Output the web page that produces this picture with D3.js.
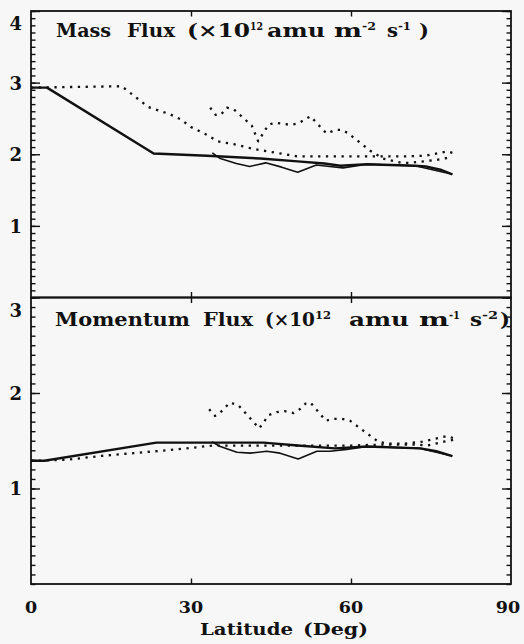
<!DOCTYPE html>
<html><head><meta charset="utf-8">
<script src="https://cdn.jsdelivr.net/npm/d3@7/dist/d3.min.js"></script>
<style>
body{margin:0;background:#f7f7f7}
svg{display:block}
text{font-family:"DejaVu Serif",serif;font-weight:bold;fill:#111}
</style>
</head><body>
<svg id="c" width="524" height="644"></svg>
<script>
// ---- tick labels ----
const latTicks = [0, 30, 60, 90];
const massTicks = [1, 2, 3, 4];
const momTicks = [1, 2, 3];

// ---- title pieces (text, superscript flag) ----
const massTitle = [["Mass", 0], ["Flux", 0], ["(×10", 0], ["12", 1], ["amu", 0], ["m", 0], ["-2", 1], ["s", 0], ["-1", 1], [")", 0]];
const momTitle = [["Momentum", 0], ["Flux", 0], ["(×10", 0], ["12", 1], ["amu", 0], ["m", 0], ["-1", 1], ["s", 0], ["-2", 1], [")", 0]];
const xTitle = [["Latitude", 0], ["(Deg)", 0]];

// ---- Mass flux panel ----
const massSolidLat = [0, 3, 23, 33, 43, 50, 55, 58, 63, 72, 74, 77, 79];
const massSolidVal = [2.93, 2.93, 2.01, 1.98, 1.94, 1.90, 1.87, 1.84, 1.86, 1.84, 1.83, 1.78, 1.72];
const massThinLat = [34, 35.5, 38.5, 41, 44, 47, 50, 53.5, 56, 58.5, 63, 72, 79];
const massThinVal = [2.02, 1.94, 1.87, 1.83, 1.88, 1.82, 1.75, 1.85, 1.83, 1.81, 1.86, 1.84, 1.72];
const massDotLat = [0, 17, 22, 26, 28, 30, 33, 35, 38, 42, 46, 50, 60, 70, 74, 78, 80];
const massDotVal = [2.93, 2.95, 2.66, 2.56, 2.49, 2.38, 2.27, 2.18, 2.14, 2.07, 2.02, 1.97, 1.97, 1.97, 1.98, 2.04, 2.0];
const massDot2Lat = [33.6, 34.6, 35.6, 36.7, 38, 41.4, 42.6, 44.5, 45.7, 48.7, 50.1, 52.4, 55.4, 57.1, 58.4, 59.5, 63.6, 66, 69.4, 71, 76, 78.9];
const massDot2Val = [2.65, 2.55, 2.55, 2.65, 2.63, 2.40, 2.18, 2.41, 2.44, 2.41, 2.43, 2.53, 2.29, 2.34, 2.34, 2.29, 2.05, 1.94, 1.88, 1.88, 1.92, 1.96];

// ---- Momentum flux panel ----
const momSolidLat = [0, 2.5, 23.5, 34, 43.6, 50, 57, 63, 73, 76, 79];
const momSolidVal = [1.29, 1.29, 1.48, 1.48, 1.48, 1.45, 1.42, 1.44, 1.42, 1.39, 1.34];
const momThinLat = [33.9, 35.5, 38.6, 41.1, 44.2, 46.7, 50.1, 53.6, 56.1, 59.2, 63, 73, 79];
const momThinVal = [1.49, 1.44, 1.38, 1.37, 1.39, 1.37, 1.31, 1.39, 1.39, 1.41, 1.44, 1.42, 1.34];
const momDotLat = [0, 6.7, 12.9, 19.2, 25.4, 29.2, 34, 60, 66, 72, 74.3, 77.4, 79.2];
const momDotVal = [1.29, 1.30, 1.34, 1.37, 1.40, 1.42, 1.45, 1.45, 1.46, 1.46, 1.45, 1.49, 1.51];
const momDot2Lat = [33.4, 34.5, 35.4, 37.3, 38.9, 42.8, 44.6, 46.1, 47.6, 49.2, 50.4, 51.5, 52.4, 55.3, 56.8, 58.3, 59.8, 65.1, 66.7, 70, 73.4, 78.1, 79.5];
const momDot2Val = [1.83, 1.76, 1.79, 1.90, 1.87, 1.63, 1.77, 1.80, 1.81, 1.79, 1.83, 1.89, 1.90, 1.71, 1.73, 1.73, 1.71, 1.49, 1.47, 1.47, 1.49, 1.55, 1.52];

const svg = d3.select("#c");
const L = 31, R = 511;
const x = d3.scaleLinear([0, 90], [L, R]);
const yTop = d3.scaleLinear([0, 4], [297.5, 11]);
const yBot = d3.scaleLinear([0, 3], [584, 297.5]);

function panel(y, maxV, majors, series) {
  const [y0, y1] = y.range();
  const g = svg.append("g");
  const minors = d3.range(0, maxV * 10 + 1).map(i => i / 10);
  g.append("g").attr("transform", `translate(${L},0)`)
    .call(d3.axisLeft(y).tickValues(minors).tickSize(-4.5).tickFormat(""))
    .call(a => a.select(".domain").remove());
  g.append("g").attr("transform", `translate(${R},0)`)
    .call(d3.axisRight(y).tickValues(minors).tickSize(-4.5).tickFormat(""))
    .call(a => a.select(".domain").remove());
  const la = g.append("g").attr("transform", `translate(${L},0)`)
    .call(d3.axisLeft(y).tickValues(majors).tickSize(-9).tickPadding(9).tickFormat(d3.format("d")))
    .call(a => a.select(".domain").remove());
  la.selectAll("text").attr("font-size", 18)
    .attr("dy", d => d === maxV ? "1.05em" : "0.36em");
  g.append("g").attr("transform", `translate(${R},0)`)
    .call(d3.axisRight(y).tickValues(majors).tickSize(-9).tickFormat(""))
    .call(a => a.select(".domain").remove());
  g.append("g").attr("transform", `translate(0,${y1})`)
    .call(d3.axisTop(x).tickValues([30, 60]).tickSize(-5.5).tickFormat(""))
    .call(a => a.select(".domain").remove());
  g.append("g").attr("transform", `translate(0,${y0})`)
    .call(d3.axisBottom(x).tickValues([30, 60]).tickSize(-5.5).tickFormat(""))
    .call(a => a.select(".domain").remove());
  g.selectAll(".tick line").attr("stroke", "#111").attr("stroke-width", 1.4);
  g.append("rect").attr("x", L).attr("y", y1).attr("width", R - L).attr("height", y0 - y1)
    .attr("fill", "none").attr("stroke", "#111").attr("stroke-width", 1.8);
  const line = d3.line().x(d => x(d[0])).y(d => y(d[1]));
  series.forEach(s => {
    g.append("path").datum(d3.zip(s.lat, s.val)).attr("d", line)
      .attr("fill", "none").attr("stroke", "#111")
      .attr("stroke-width", s.w).attr("stroke-linejoin", "round")
      .attr("stroke-dasharray", s.dash || null);
  });
}

panel(yTop, 4, massTicks, [
  {lat: massSolidLat, val: massSolidVal, w: 2.4},
  {lat: massThinLat, val: massThinVal, w: 1.6},
  {lat: massDotLat, val: massDotVal, w: 2.3, dash: "2.3 5.5"},
  {lat: massDot2Lat, val: massDot2Val, w: 2.3, dash: "2.3 5.5"}
]);
panel(yBot, 3, momTicks, [
  {lat: momSolidLat, val: momSolidVal, w: 2.4},
  {lat: momThinLat, val: momThinVal, w: 1.6},
  {lat: momDotLat, val: momDotVal, w: 2.3, dash: "2.3 5.5"},
  {lat: momDot2Lat, val: momDot2Val, w: 2.3, dash: "2.3 5.5"}
]);

// x tick labels
svg.append("g").selectAll("text").data(latTicks).join("text")
  .attr("x", d => x(d) - (d === 90 ? 3 : 0)).attr("y", 613)
  .attr("text-anchor", "middle").attr("font-size", 17.5).text(d => d);

// titles: each piece placed over its span in the reference
function title(parts, spans, yb, size) {
  const g = svg.append("g");
  parts.forEach((p, i) => {
    const [x0, x1] = spans[i];
    g.append("text")
      .attr("x", x0).attr("y", p[1] ? yb - 7.5 : yb)
      .attr("font-size", p[1] ? 11 : size)
      .attr("textLength", x1 - x0).attr("lengthAdjust", "spacingAndGlyphs")
      .text(p[0]);
  });
}
title(massTitle, [[56,111],[127,175],[187,250],[250,263],[267,325],[334,362],[362,376],[387,398],[398,411],[419,429]], 37, 18);
title(momTitle, [[55,190],[203,253],[265,315],[315,331],[349,409],[419,449],[449,460],[470,482],[482,498],[500,510]], 326, 18);
title(xTitle, [[200,293],[303,368]], 635, 17);
</script>
</body></html>
